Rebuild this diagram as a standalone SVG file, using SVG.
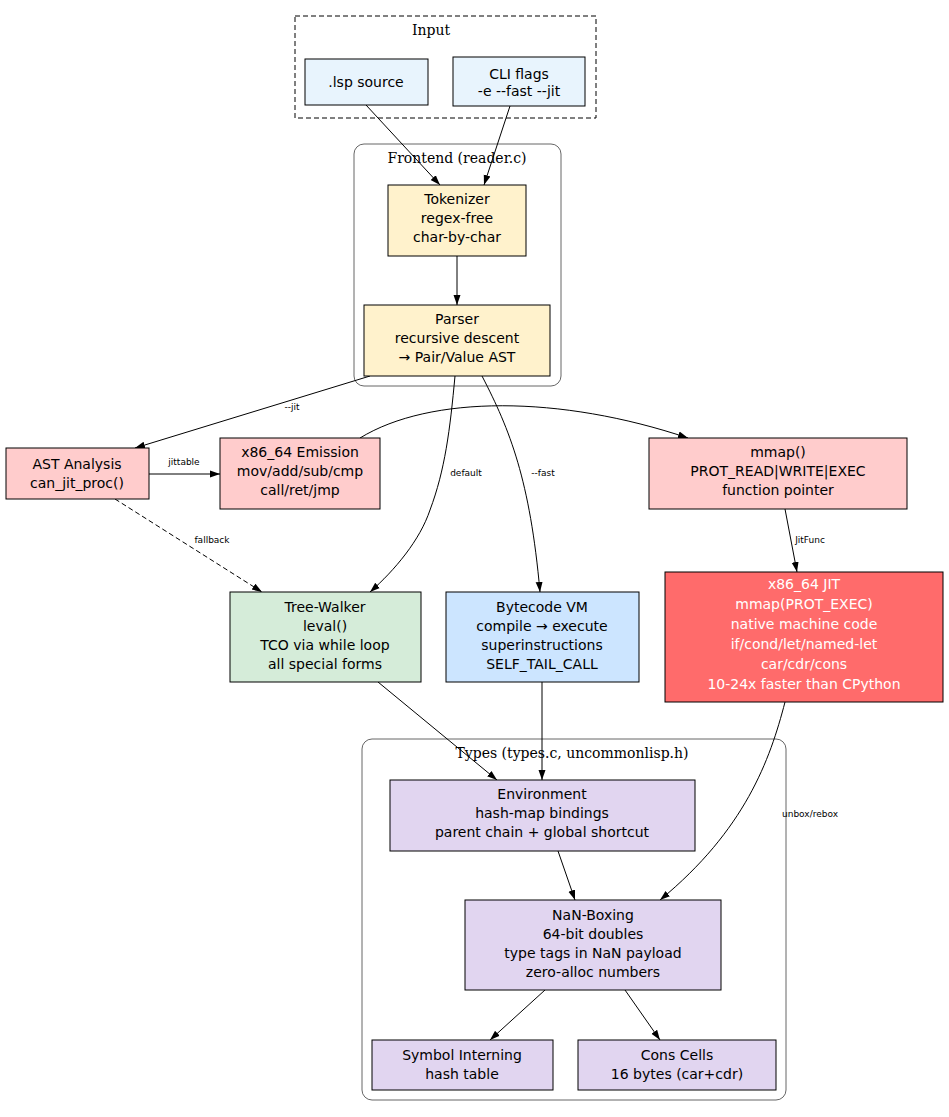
<svg xmlns="http://www.w3.org/2000/svg" width="949" height="1117" viewBox="0 0 949 1117">
<style>
.n{stroke:#000;stroke-width:1}
.t{font-family:"DejaVu Sans",sans-serif;font-size:14px;text-anchor:middle;fill:#000}
.w{fill:#fff}
.c{font-family:"DejaVu Serif",serif;font-size:14px;text-anchor:middle}
.e{fill:none;stroke:#000;stroke-width:1}
.l{font-family:"DejaVu Sans",sans-serif;font-size:9px;text-anchor:middle}
.cl{fill:none;stroke:#666}
</style>
<defs><marker id="a" viewBox="0 0 10 10" refX="10" refY="5" markerWidth="10" markerHeight="10" markerUnits="userSpaceOnUse" orient="auto"><path d="M0,1.5L10,5L0,8.5z"/></marker></defs>
<rect width="949" height="1117" fill="#fff"/>
<g id="clusters">
<rect x="295" y="16" width="301" height="102" fill="none" stroke="#000" stroke-dasharray="5,3"/>
<text class="c" x="431" y="35">Input</text>
<rect class="cl" x="354" y="144" width="207" height="242" rx="10"/>
<text class="c" x="457" y="163">Frontend (reader.c)</text>
<rect class="cl" x="362" y="739" width="424" height="361" rx="10"/>
<text class="c" x="572" y="758">Types (types.c, uncommonlisp.h)</text>
</g>
<g id="edges">
<path class="e" marker-end="url(#a)" d="M366,105L440,185"/>
<path class="e" marker-end="url(#a)" d="M510,106L484,185"/>
<path class="e" marker-end="url(#a)" d="M457,256L457,305"/>
<path class="e" marker-end="url(#a)" d="M370,376L135,448"/>
<text class="l" x="292" y="410">--jit</text>
<path class="e" marker-end="url(#a)" d="M455,376C450,430 445,470 430,510C420,540 395,570 370,592"/>
<text class="l" x="466" y="476">default</text>
<path class="e" marker-end="url(#a)" d="M482,376C510,430 530,480 540,592"/>
<text class="l" x="543" y="476">--fast</text>
<path class="e" marker-end="url(#a)" d="M149,474L220,474"/>
<text class="l" x="184" y="465">jittable</text>
<path class="e" marker-end="url(#a)" d="M360,438C430,395 560,395 688,438"/>
<path class="e" marker-end="url(#a)" d="M785,509L797,572"/>
<text class="l" x="810" y="543">JitFunc</text>
<path class="e" marker-end="url(#a)" stroke-dasharray="5,3" d="M115,499L262,592"/>
<text class="l" x="212" y="543">fallback</text>
<path class="e" marker-end="url(#a)" d="M378,682L497,780"/>
<path class="e" marker-end="url(#a)" d="M542,682L542,780"/>
<path class="e" marker-end="url(#a)" d="M785,702C770,760 745,830 660,900"/>
<text class="l" x="810" y="817">unbox/rebox</text>
<path class="e" marker-end="url(#a)" d="M558,851L575,900"/>
<path class="e" marker-end="url(#a)" d="M545,990L490,1040"/>
<path class="e" marker-end="url(#a)" d="M625,990L660,1040"/>
</g>
<g id="lsp"><rect class="n" x="305" y="59" width="123" height="46" fill="#e8f4fd"/><text class="t" x="366" y="87">.lsp source</text></g>
<g id="cli"><rect class="n" x="453" y="57" width="132" height="49" fill="#e8f4fd"/><text class="t" x="519" y="79">CLI flags</text><text class="t" x="519" y="96">-e --fast --jit</text></g>
<g id="tok"><rect class="n" x="388" y="185" width="138" height="71" fill="#fff2cc"/><text class="t" x="457" y="204">Tokenizer</text><text class="t" x="457" y="223">regex-free</text><text class="t" x="457" y="242">char-by-char</text></g>
<g id="parser"><rect class="n" x="364" y="305" width="186" height="71" fill="#fff2cc"/><text class="t" x="457" y="324">Parser</text><text class="t" x="457" y="343">recursive descent</text><text class="t" x="457" y="362">→ Pair/Value AST</text></g>
<g id="ast"><rect class="n" x="6" y="448" width="143" height="51" fill="#ffcccc"/><text class="t" x="77" y="469">AST Analysis</text><text class="t" x="77" y="488">can_jit_proc()</text></g>
<g id="emit"><rect class="n" x="220" y="438" width="160" height="71" fill="#ffcccc"/><text class="t" x="300" y="457">x86_64 Emission</text><text class="t" x="300" y="476">mov/add/sub/cmp</text><text class="t" x="300" y="495">call/ret/jmp</text></g>
<g id="mmap"><rect class="n" x="649" y="438" width="258" height="71" fill="#ffcccc"/><text class="t" x="778" y="457">mmap()</text><text class="t" x="778" y="476">PROT_READ|WRITE|EXEC</text><text class="t" x="778" y="495">function pointer</text></g>
<g id="jit"><rect class="n" x="665" y="572" width="278" height="130" fill="#ff6b6b"/>
<text class="t w" x="804" y="589">x86_64 JIT</text><text class="t w" x="804" y="609">mmap(PROT_EXEC)</text><text class="t w" x="804" y="629">native machine code</text><text class="t w" x="804" y="649">if/cond/let/named-let</text><text class="t w" x="804" y="669">car/cdr/cons</text><text class="t w" x="804" y="689">10-24x faster than CPython</text></g>
<g id="tree"><rect class="n" x="230" y="592" width="191" height="90" fill="#d5ecd9"/><text class="t" x="325" y="612">Tree-Walker</text><text class="t" x="325" y="631">leval()</text><text class="t" x="325" y="650">TCO via while loop</text><text class="t" x="325" y="669">all special forms</text></g>
<g id="vm"><rect class="n" x="446" y="592" width="193" height="90" fill="#cce5ff"/><text class="t" x="542" y="612">Bytecode VM</text><text class="t" x="542" y="631">compile → execute</text><text class="t" x="542" y="650">superinstructions</text><text class="t" x="542" y="669">SELF_TAIL_CALL</text></g>
<g id="env"><rect class="n" x="390" y="780" width="305" height="71" fill="#e1d5f0"/><text class="t" x="542" y="799">Environment</text><text class="t" x="542" y="818">hash-map bindings</text><text class="t" x="542" y="837">parent chain + global shortcut</text></g>
<g id="nan"><rect class="n" x="465" y="900" width="256" height="90" fill="#e1d5f0"/><text class="t" x="593" y="920">NaN-Boxing</text><text class="t" x="593" y="939">64-bit doubles</text><text class="t" x="593" y="958">type tags in NaN payload</text><text class="t" x="593" y="977">zero-alloc numbers</text></g>
<g id="sym"><rect class="n" x="372" y="1040" width="181" height="50" fill="#e1d5f0"/><text class="t" x="462" y="1060">Symbol Interning</text><text class="t" x="462" y="1079">hash table</text></g>
<g id="cons"><rect class="n" x="578" y="1040" width="198" height="50" fill="#e1d5f0"/><text class="t" x="677" y="1060">Cons Cells</text><text class="t" x="677" y="1079">16 bytes (car+cdr)</text></g>
</svg>
